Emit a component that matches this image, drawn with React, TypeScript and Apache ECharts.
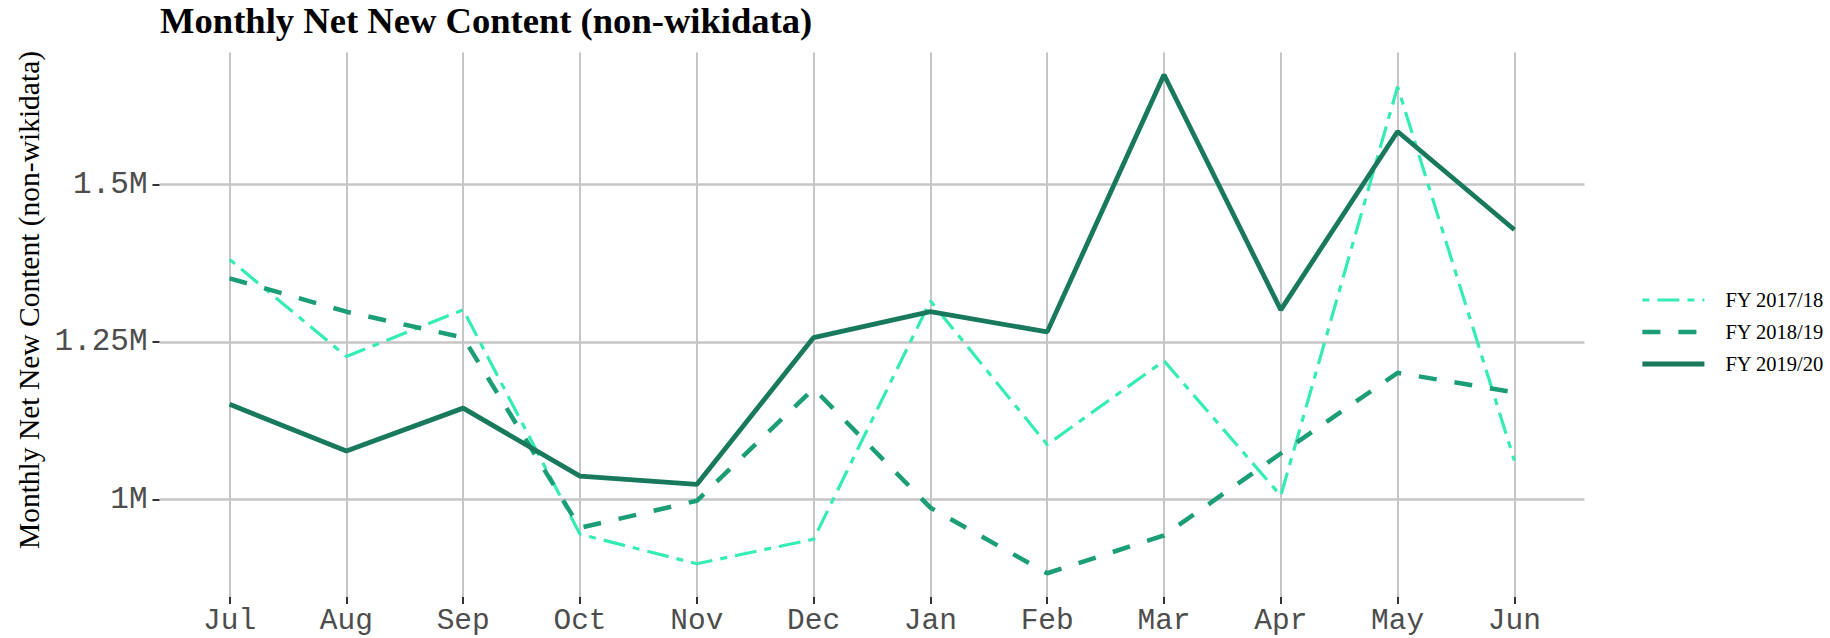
import React, { useEffect, useRef } from "react";
import * as echarts from "echarts";

const months = ["Jul", "Aug", "Sep", "Oct", "Nov", "Dec", "Jan", "Feb", "Mar", "Apr", "May", "Jun"];
const seriesNames = ["FY 2017/18", "FY 2018/19", "FY 2019/20"];
const fy1718 = [1.381, 1.227, 1.301, 0.945, 0.898, 0.937, 1.315, 1.087, 1.22, 1.006, 1.655, 1.062];
const fy1819 = [1.351, 1.298, 1.257, 0.955, 0.998, 1.176, 0.987, 0.883, 0.943, 1.073, 1.201, 1.17];
const fy1920 = [1.151, 1.077, 1.145, 1.037, 1.024, 1.257, 1.298, 1.266, 1.674, 1.301, 1.584, 1.428];
const yTicks = [1, 1.25, 1.5];

const Y_MIN = 0.8453;
const Y_MAX = 1.7093;
const MONO = "'Liberation Mono', 'DejaVu Sans Mono', monospace";
const SERIF = "'Liberation Serif', 'DejaVu Serif', serif";
const GRID_COLOR = "#c6c6c6";
const legendWidths = [3.2, 4.5, 4.8];

export default function App() {
  const ref = useRef<HTMLDivElement>(null);
  useEffect(() => {
    if (!ref.current) return;
    const chart = echarts.init(ref.current, null, { renderer: "svg" });
    const option: any = {
      animation: false,
      backgroundColor: "#ffffff",
      title: {
        text: "Monthly Net New Content (non-wikidata)",
        left: 160,
        top: 2,
        padding: 0,
        textStyle: { fontFamily: SERIF, fontWeight: "bold", fontSize: 36.6, color: "#000" },
      },
      graphic: [
        {
          type: "text",
          x: 28.5,
          y: 300,
          rotation: Math.PI / 2,
          style: {
            text: "Monthly Net New Content (non-wikidata)",
            font: `29.5px ${SERIF}`,
            fill: "#000",
            align: "center",
            verticalAlign: "middle",
          },
        },
      ],
      legend: {
        orient: "vertical",
        left: 1635,
        top: 284,
        itemWidth: 62,
        itemHeight: 14,
        itemGap: 10,
        data: seriesNames.map((n, i) => ({ name: n, lineStyle: { width: legendWidths[i] } })),
        itemStyle: { opacity: 0 },
        textStyle: { fontFamily: SERIF, fontSize: 20.5, color: "#000", lineHeight: 22, padding: [0, 0, 0, 16] },
      },
      grid: [
        { left: 159.5, right: 245.5, top: 52.5, bottom: 41, containLabel: false },
        { left: 229.6, right: 315.6, top: 52.5, bottom: 41, containLabel: false },
      ],
      xAxis: [
        { type: "value", gridIndex: 0, show: false, min: 0, max: 1 },
        {
          type: "category",
          gridIndex: 1,
          data: months,
          boundaryGap: false,
          axisLine: { show: false },
          axisTick: { show: true, length: 7, lineStyle: { color: "#333", width: 2 } },
          axisLabel: { margin: 12, fontFamily: MONO, fontSize: 29.5, lineHeight: 24, color: "#4d4d4d", interval: 0 },
          splitLine: { show: true, interval: 0, lineStyle: { color: GRID_COLOR, width: 2 } },
        },
      ],
      yAxis: [
        {
          type: "value",
          gridIndex: 0,
          min: Y_MIN,
          max: Y_MAX,
          axisLine: { show: false },
          axisTick: { show: true, length: 7, customValues: yTicks, lineStyle: { color: "#333", width: 2 } },
          axisLabel: {
            margin: 12,
            customValues: yTicks,
            fontFamily: MONO,
            fontSize: 31,
            color: "#4d4d4d",
            formatter: (v: number) => `${v}M`,
          },
          splitLine: { show: true, customValues: yTicks, lineStyle: { color: GRID_COLOR, width: 2.5 } },
        },
        { type: "value", gridIndex: 1, min: Y_MIN, max: Y_MAX, show: false, splitLine: { show: false } },
      ],
      series: [
        {
          name: seriesNames[0],
          type: "line",
          xAxisIndex: 1,
          yAxisIndex: 1,
          data: fy1718,
          symbol: "none",
          lineStyle: { color: "#35ecb4", width: 3.2, type: [7, 8, 22, 8] },
          itemStyle: { color: "#35ecb4" },
        },
        {
          name: seriesNames[1],
          type: "line",
          xAxisIndex: 1,
          yAxisIndex: 1,
          data: fy1819,
          symbol: "none",
          lineStyle: { color: "#1b9e77", width: 4.5, type: [18, 18] },
          itemStyle: { color: "#1b9e77" },
        },
        {
          name: seriesNames[2],
          type: "line",
          xAxisIndex: 1,
          yAxisIndex: 1,
          data: fy1920,
          symbol: "none",
          lineStyle: { color: "#18795d", width: 4.8, type: "solid" },
          itemStyle: { color: "#18795d" },
        },
      ],
    };
    chart.setOption(option);
    return () => chart.dispose();
  }, []);
  return <div ref={ref} style={{ position: "fixed", left: 0, top: 0, width: 1830, height: 638 }} />;
}
